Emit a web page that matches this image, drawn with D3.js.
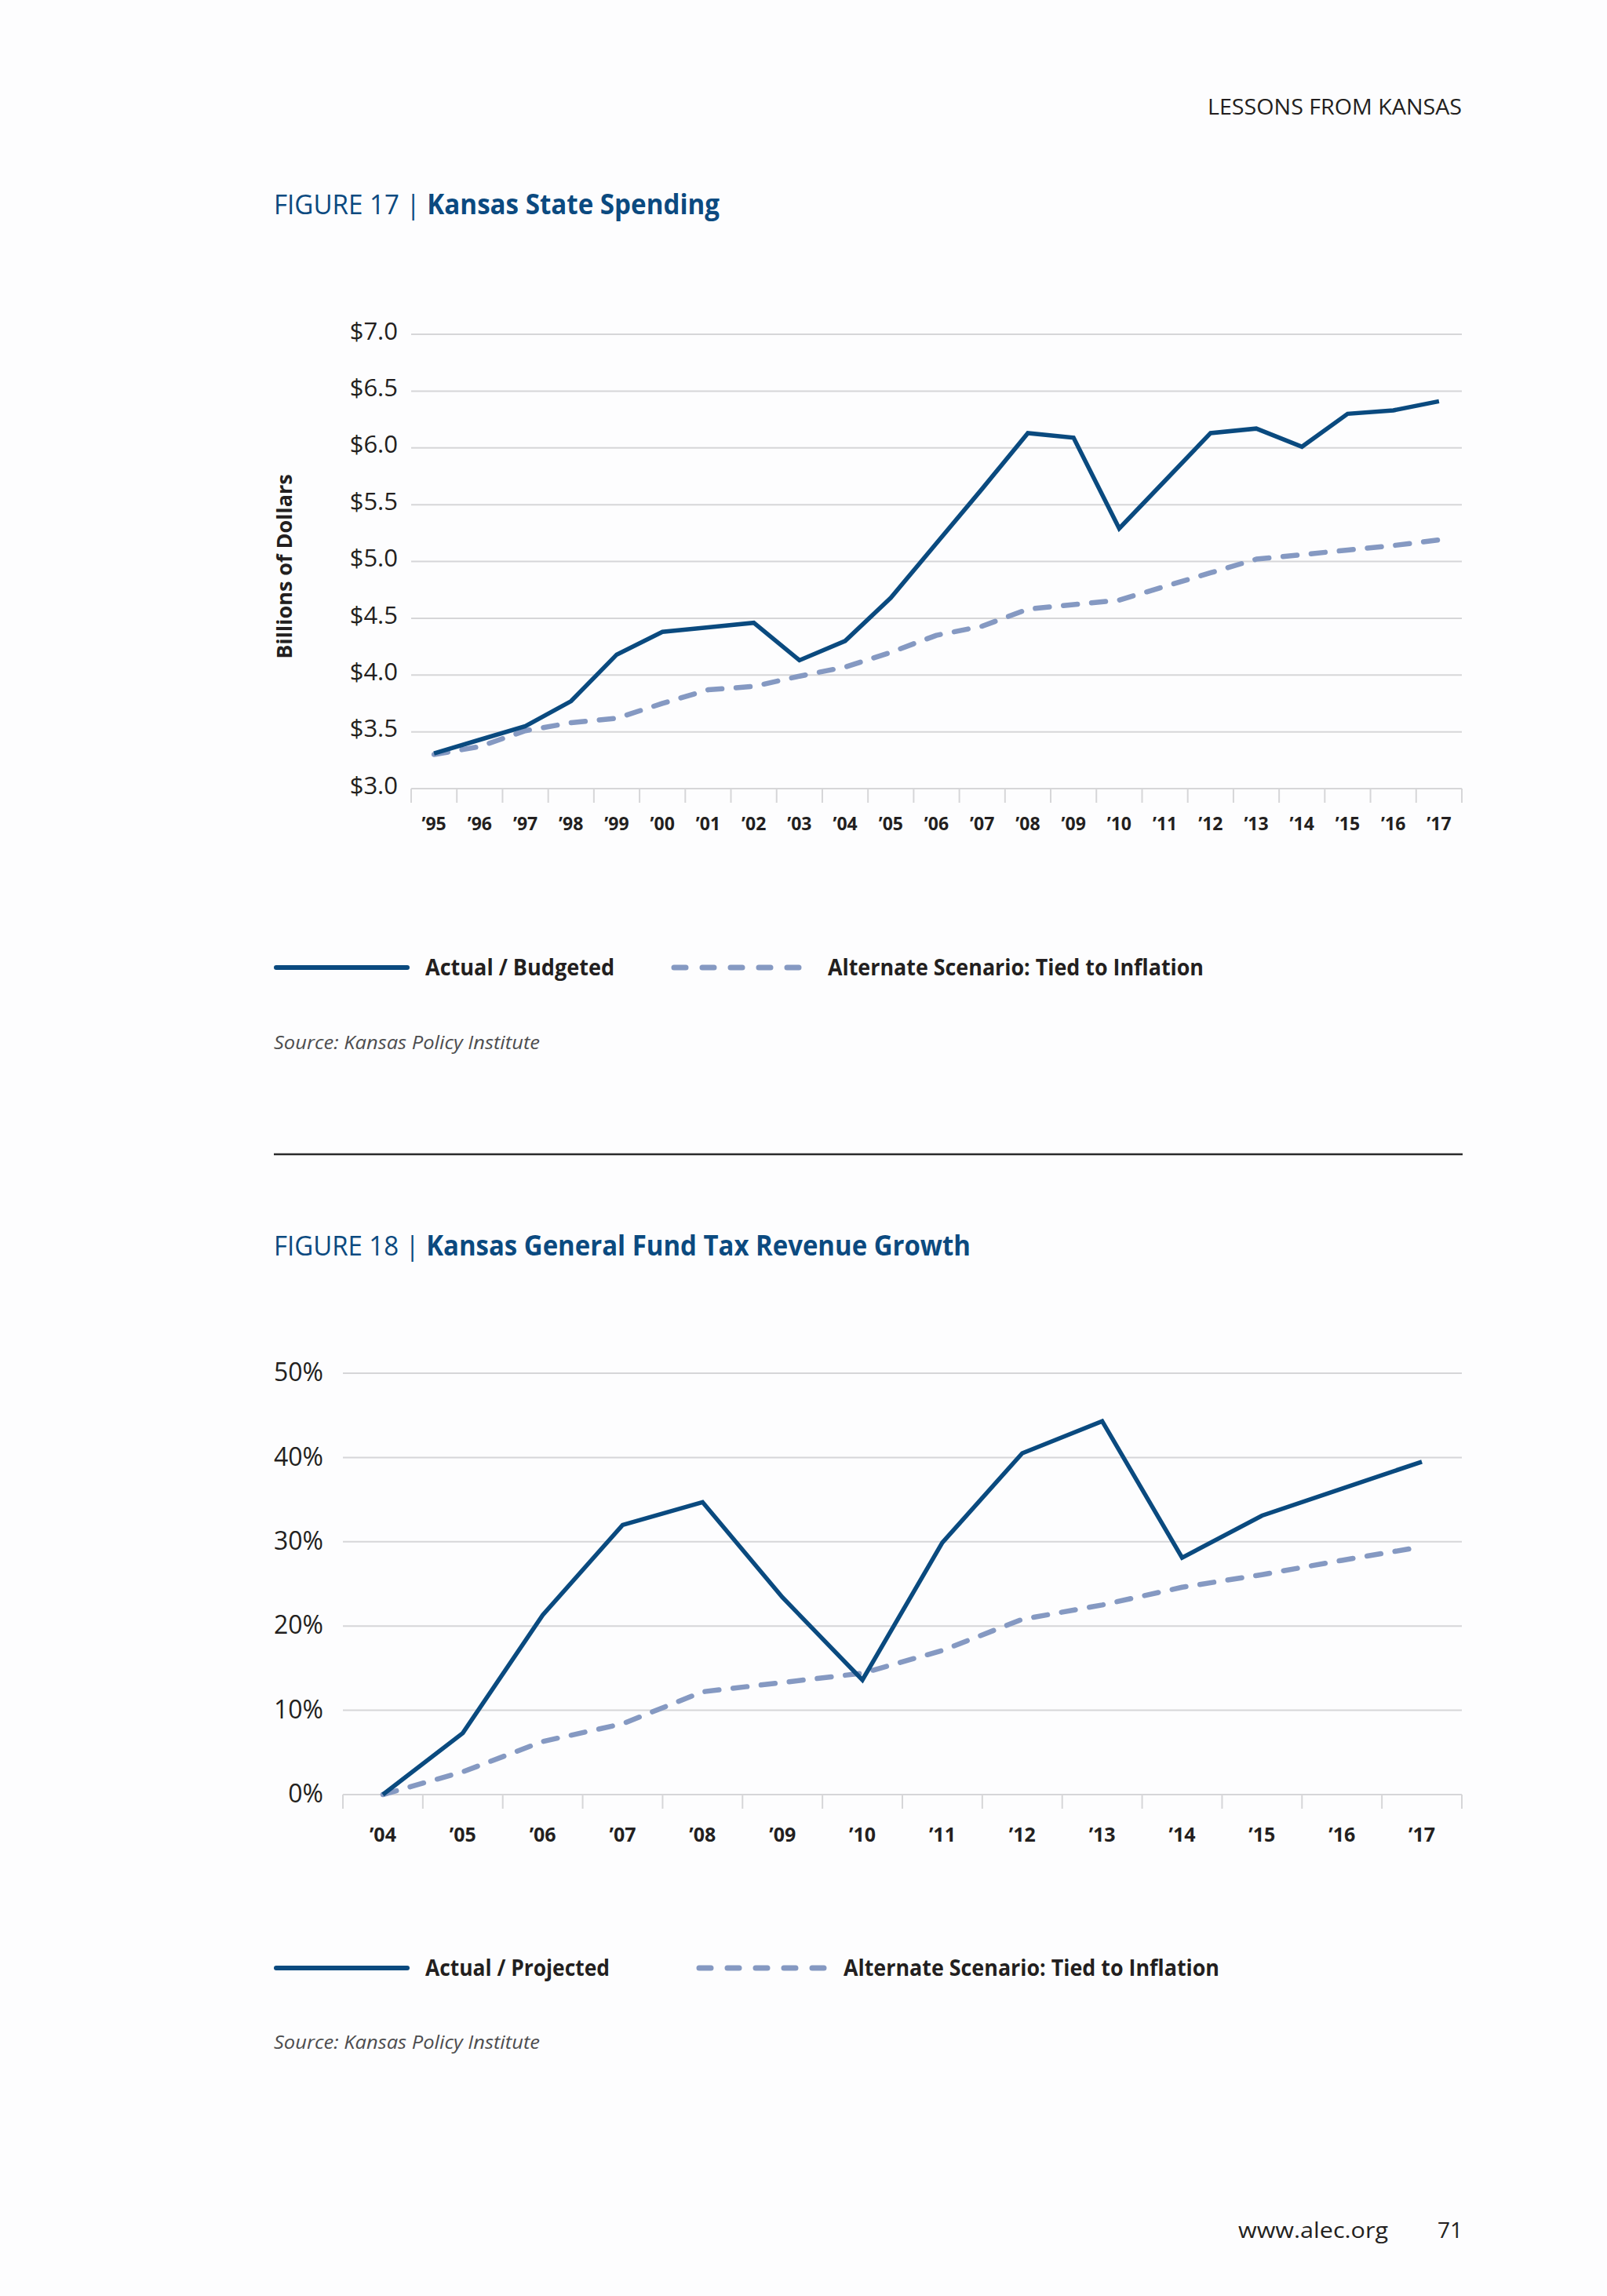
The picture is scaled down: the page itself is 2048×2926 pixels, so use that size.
<!DOCTYPE html>
<html>
<head>
<meta charset="utf-8">
<script src="https://cdn.jsdelivr.net/npm/d3@7"></script>
<style>
  html, body { margin: 0; padding: 0; background: #ffffff; }
  svg { display: block; }
  text { font-family: "Open Sans", "DejaVu Sans", sans-serif; }
</style>
</head>
<body>
<script>
// ---------- DATA ----------
const years17 = ["’95","’96","’97","’98","’99","’00","’01","’02","’03","’04","’05","’06","’07","’08","’09","’10","’11","’12","’13","’14","’15","’16","’17"];
const actual17 = [3.31,3.43,3.55,3.77,4.18,4.38,4.42,4.46,4.13,4.30,4.68,5.16,5.64,6.13,6.09,5.29,5.71,6.13,6.17,6.01,6.30,6.33,6.41];
const inflation17 = [3.30,3.37,3.51,3.58,3.62,3.75,3.87,3.90,3.99,4.07,4.20,4.35,4.43,4.58,4.62,4.66,4.78,4.90,5.02,5.06,5.10,5.14,5.19];
const ticks17 = [3.0,3.5,4.0,4.5,5.0,5.5,6.0,6.5,7.0];

const years18 = ["’04","’05","’06","’07","’08","’09","’10","’11","’12","’13","’14","’15","’16","’17"];
const actual18 = [0,7.3,21.3,32.0,34.7,23.4,13.6,29.9,40.5,44.3,28.1,33.1,36.3,39.5];
const inflation18 = [0,2.7,6.3,8.4,12.2,13.3,14.4,17.1,20.8,22.5,24.6,26.1,27.8,29.4];
const ticks18 = [0,10,20,30,40,50];

const legend17 = ["Actual / Budgeted", "Alternate Scenario: Tied to Inflation"];
const legend18 = ["Actual / Projected", "Alternate Scenario: Tied to Inflation"];

// ---------- STYLE ----------
const W = 2048, H = 2926;
const C_SOLID = "#0a4a7f", C_DASH = "#8599c2", C_GRID = "#d6d6d8", C_TEXT = "#231f20", C_TITLE = "#0b4a80";

const svg = d3.select("body").append("svg").attr("width", W).attr("height", H);
svg.append("rect").attr("width", W).attr("height", H).attr("fill", "#fdfdfe");

// header
svg.append("text").attr("x", 1863).attr("y", 146).attr("text-anchor", "end")
  .attr("font-size", 27).attr("fill", C_TEXT).attr("textLength", 324).attr("lengthAdjust", "spacingAndGlyphs")
  .text("LESSONS FROM KANSAS");

function title(y, num, name, width) {
  const t = svg.append("text").attr("x", 349).attr("y", y).attr("font-size", 35).attr("fill", C_TITLE)
    .attr("textLength", width).attr("lengthAdjust", "spacingAndGlyphs");
  t.append("tspan").text(num + " | ");
  t.append("tspan").attr("font-weight", "bold").text(name);
}
title(273, "FIGURE 17", "Kansas State Spending", 568);
title(1600, "FIGURE 18", "Kansas General Fund Tax Revenue Growth", 888);

// divider
svg.append("line").attr("x1", 349).attr("x2", 1864).attr("y1", 1471).attr("y2", 1471)
  .attr("stroke", "#2b2b2b").attr("stroke-width", 2.5);

function chart(cfg) {
  const g = svg.append("g");
  const x = d3.scaleBand().domain(cfg.cats).range([cfg.left, cfg.right]).padding(0);
  const y = d3.scaleLinear().domain(cfg.domain).range([cfg.bottom, cfg.top]);

  // gridlines
  g.append("g").selectAll("line").data(cfg.ticks).join("line")
    .attr("x1", cfg.left).attr("x2", cfg.right)
    .attr("y1", d => y(d)).attr("y2", d => y(d))
    .attr("stroke", C_GRID).attr("stroke-width", 2);

  // y axis labels
  const ya = g.append("g").attr("transform", `translate(${cfg.labelRight},0)`)
    .call(d3.axisLeft(y).tickValues(cfg.ticks).tickFormat(cfg.fmt).tickSize(0).tickPadding(0));
  ya.select(".domain").remove();
  ya.selectAll("text").attr("font-size", cfg.yFont).attr("fill", C_TEXT)
    .attr("font-family", "Open Sans").attr("dy", cfg.yDy);

  // x axis ticks at band boundaries
  const bounds = cfg.cats.map(c => x(c)).concat([cfg.right]);
  g.append("g").selectAll("line").data(bounds).join("line")
    .attr("x1", d => d).attr("x2", d => d).attr("y1", cfg.bottom).attr("y2", cfg.bottom + 18)
    .attr("stroke", C_GRID).attr("stroke-width", 2);

  const xa = g.append("g").attr("transform", `translate(0,${cfg.xLabelY})`)
    .call(d3.axisBottom(x).tickSize(0).tickPadding(0));
  xa.select(".domain").remove();
  xa.selectAll("text").attr("font-size", cfg.xFont).attr("font-weight", "bold").attr("fill", C_TEXT)
    .attr("font-family", "Open Sans").attr("dy", "0.35em");

  const line = d3.line().x((d, i) => x(cfg.cats[i]) + x.bandwidth() / 2).y(d => y(d));
  g.append("path").datum(cfg.dash).attr("d", line).attr("fill", "none")
    .attr("stroke", C_DASH).attr("stroke-width", 6.5).attr("stroke-linecap", "round")
    .attr("stroke-linejoin", "round").attr("stroke-dasharray", "18,18");
  g.append("path").datum(cfg.solid).attr("d", line).attr("fill", "none")
    .attr("stroke", C_SOLID).attr("stroke-width", 5.5).attr("stroke-linejoin", "miter");

  // legend
  const ly = cfg.legendY;
  g.append("line").attr("x1", 352).attr("x2", 519).attr("y1", ly).attr("y2", ly)
    .attr("stroke", C_SOLID).attr("stroke-width", 6).attr("stroke-linecap", "round");
  g.append("text").attr("x", 542).attr("y", ly).attr("dy", "0.35em").attr("font-size", 28)
    .attr("font-weight", "bold").attr("fill", C_TEXT)
    .attr("textLength", cfg.leg1W).attr("lengthAdjust", "spacingAndGlyphs").text(cfg.legend[0]);
  g.append("line").attr("x1", cfg.dashX0 + 4).attr("x2", cfg.dashX0 + 166).attr("y1", ly).attr("y2", ly)
    .attr("stroke", C_DASH).attr("stroke-width", 7).attr("stroke-linecap", "round")
    .attr("stroke-dasharray", "15,21");
  g.append("text").attr("x", cfg.leg2X).attr("y", ly).attr("dy", "0.35em").attr("font-size", 28)
    .attr("font-weight", "bold").attr("fill", C_TEXT)
    .attr("textLength", 479).attr("lengthAdjust", "spacingAndGlyphs").text(cfg.legend[1]);

  // source
  g.append("text").attr("x", 349).attr("y", cfg.sourceY).attr("font-size", 24).attr("font-style", "italic")
    .attr("fill", "#4d4d4f").attr("textLength", 339).attr("lengthAdjust", "spacingAndGlyphs")
    .text("Source: Kansas Policy Institute");
}

chart({
  cats: years17, solid: actual17, dash: inflation17, ticks: ticks17, domain: [3, 7],
  left: 524, right: 1863, top: 426, bottom: 1005,
  labelRight: 507, fmt: d3.format("$.1f"), yFont: 31, yDy: "0.2em",
  xLabelY: 1050, xFont: 23,
  legendY: 1233, legend: legend17, leg1W: 241, dashX0: 855, leg2X: 1055, sourceY: 1337
});

chart({
  cats: years18, solid: actual18, dash: inflation18, ticks: ticks18, domain: [0, 50],
  left: 437, right: 1863, top: 1750, bottom: 2287,
  labelRight: 412, fmt: d => d + "%", yFont: 32, yDy: "0.3em",
  xLabelY: 2338, xFont: 25,
  legendY: 2508, legend: legend18, leg1W: 235, dashX0: 887, leg2X: 1075, sourceY: 2611
});

// y axis title for figure 17
svg.append("text").attr("transform", "translate(372,722) rotate(-90)").attr("text-anchor", "middle")
  .attr("font-size", 27).attr("font-weight", "bold").attr("fill", C_TEXT).text("Billions of Dollars");

// footer
svg.append("text").attr("x", 1769).attr("y", 2852).attr("text-anchor", "end").attr("font-size", 28)
  .attr("fill", C_TEXT).attr("textLength", 191).attr("lengthAdjust", "spacingAndGlyphs").text("www.alec.org");
svg.append("text").attr("x", 1864).attr("y", 2852).attr("text-anchor", "end").attr("font-size", 28)
  .attr("fill", C_TEXT).text("71");
</script>
</body>
</html>
